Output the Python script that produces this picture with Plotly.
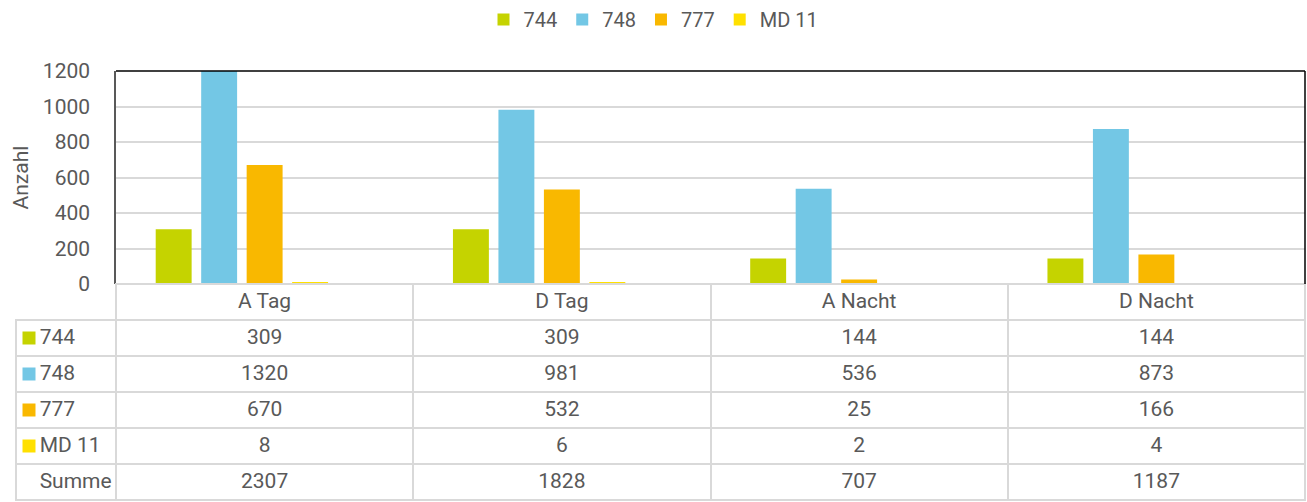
import plotly.graph_objects as go

W, H = 1307, 502

categories = ['A Tag', 'D Tag', 'A Nacht', 'D Nacht']
series_names = ['744', '748', '777', 'MD 11']
v_744 = [309, 309, 144, 144]
v_748 = [1320, 981, 536, 873]
v_777 = [670, 532, 25, 166]
v_md11 = [8, 6, 2, 4]
summe = [2307, 1828, 707, 1187]
colors = ['#C5D300', '#73C7E5', '#F9B800', '#FFE000']

series_values = [v_744, v_748, v_777, v_md11]
font_color = '#595959'
grid_color = '#D9D9D9'
font_family = 'Roboto, DejaVu Sans, sans-serif'

# plot area in pixels (left, right, top, bottom)
px_l, px_r, px_t, px_b = 116, 1305, 71, 284
row_h = 36
tab_l = 16
x_dom = [px_l / W, px_r / W]
y_dom = [1 - px_b / H, 1 - px_t / H]

fig = go.Figure()
for name, vals, col in zip(series_names, series_values, colors):
    fig.add_trace(go.Bar(name=name, x=categories, y=vals, marker_color=col,
                         marker_line_width=0))
# the Summe series takes a slot in each group but is not filled
fig.add_trace(go.Bar(name='Summe', x=categories, y=summe, marker_color='rgba(0,0,0,0)',
                     marker_line_width=0, showlegend=False, hoverinfo='skip'))

# data table below the chart
nb = '\u00a0'
label_cells = [nb * 3 + n.replace(' ', nb) for n in series_names] + [nb * 3 + 'Summe']
table_cols = [label_cells]
for i in range(len(categories)):
    table_cols.append([str(s[i]) for s in series_values] + [str(summe[i])])

clear = 'rgba(0,0,0,0)'
n_cat = len(categories)
fig.add_trace(go.Table(
    domain=dict(x=[tab_l / W, px_r / W], y=[0, 1 - px_b / H]),
    columnwidth=[px_l - tab_l] + [(px_r - px_l) / n_cat] * n_cat,
    header=dict(values=[''] + categories, height=row_h,
                fill_color=[clear] + ['white'] * n_cat,
                line=dict(color=[clear] + [grid_color] * n_cat, width=2),
                align='center',
                font=dict(family=font_family, size=21, color=font_color)),
    cells=dict(values=table_cols, height=row_h,
               fill_color=[clear] + ['white'] * n_cat,
               line=dict(color=grid_color, width=2),
               align=['left'] + ['center'] * n_cat,
               font=dict(family=font_family, size=21, color=font_color)),
))

# colour keys in the first table column
rows_top = px_b + row_h
fig.add_trace(go.Scatter(
    x=[0] * len(series_names), y=series_names, mode='markers',
    marker=dict(symbol='square', size=13, color=colors, line_width=0),
    xaxis='x2', yaxis='y2', showlegend=False, hoverinfo='skip'))

# top and right border of the plot area
fig.add_shape(type='line', xref='x domain', yref='y domain', x0=0, x1=1, y0=1, y1=1,
              line=dict(color='black', width=1.5))
fig.add_shape(type='line', xref='x domain', yref='y domain', x0=1, x1=1, y0=0, y1=1,
              line=dict(color='black', width=1.5))

fig.add_annotation(text='Anzahl', xref='paper', yref='paper', x=20 / W,
                   y=(y_dom[0] + y_dom[1]) / 2, textangle=-90, showarrow=False,
                   xanchor='center', yanchor='middle',
                   font=dict(family=font_family, size=21, color=font_color))

fig.update_layout(
    width=W, height=H,
    margin=dict(l=0, r=0, t=0, b=0),
    paper_bgcolor='white', plot_bgcolor='white',
    barmode='group', bargap=0.235, bargroupgap=0.21,
    font=dict(family=font_family, size=21, color=font_color),
    legend=dict(orientation='h', x=0.5, xanchor='center', y=1, yanchor='top',
                font=dict(family=font_family, size=20, color=font_color),
                itemclick=False),
    xaxis=dict(domain=x_dom, showticklabels=False, showgrid=False, ticks='',
               showline=False, automargin=False),
    yaxis=dict(domain=y_dom, range=[0, 1200], tickvals=[0, 200, 400, 600, 800, 1000, 1200],
               showgrid=True, gridcolor=grid_color, gridwidth=2,
               zeroline=True, zerolinecolor=grid_color, zerolinewidth=2,
               showline=True, linecolor=font_color, linewidth=1.5,
               ticks='', ticklabelstandoff=20, automargin=False,
               tickfont=dict(family=font_family, size=21, color=font_color)),
    xaxis2=dict(domain=[tab_l / W, px_l / W], range=[-13, 87], visible=False,
                fixedrange=True),
    yaxis2=dict(domain=[1 - (rows_top + row_h * 4) / H, 1 - rows_top / H],
                range=[3.5, -0.5], type='category', categoryorder='array',
                categoryarray=series_names, visible=False, fixedrange=True),
)

fig.write_html('out.html', config={'displayModeBar': False},
               post_script="document.body.style.margin='0';")
